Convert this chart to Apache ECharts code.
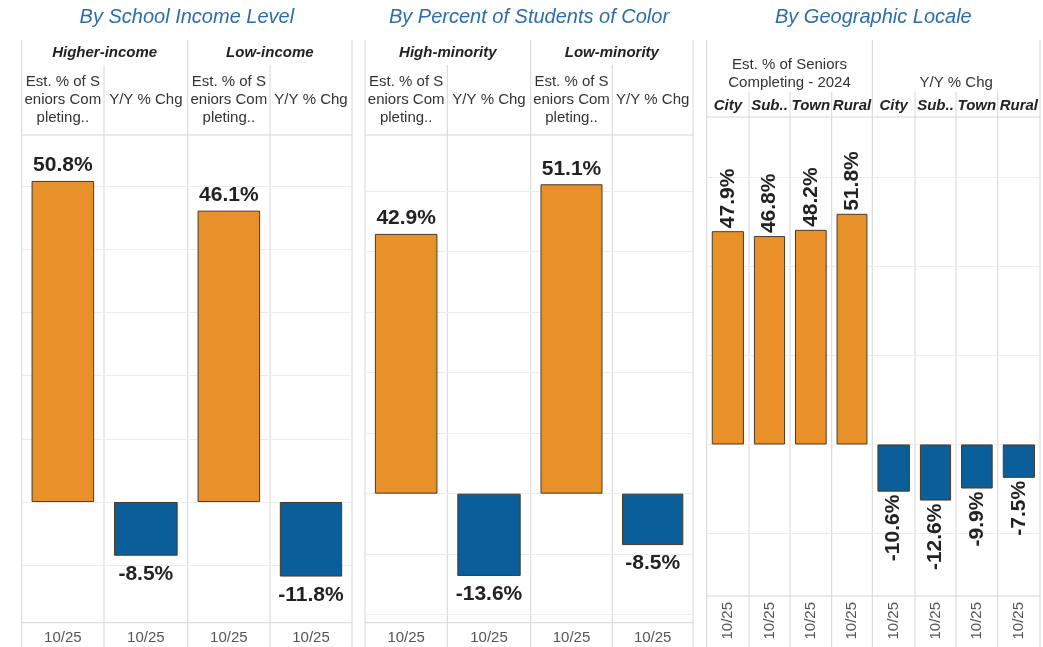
<!DOCTYPE html>
<html>
<head>
<meta charset="utf-8">
<script src="https://cdn.jsdelivr.net/npm/echarts@6/dist/echarts.min.js"></script>
<style>
  html, body { margin: 0; padding: 0; background: #ffffff; }
  #chart { width: 1043px; height: 647px; }
</style>
</head>
<body>
<div id="chart"></div>
<script>
// ---------------- DATA ----------------
const panelTitles = ['By School Income Level', 'By Percent of Students of Color', 'By Geographic Locale'];
const periodLabels = ['10/25'];
const incomeGroups = ['Higher-income', 'Low-income'];
const incomeCompleting = [50.8, 46.1];
const incomeYoY = [-8.5, -11.8];
const colorGroups = ['High-minority', 'Low-minority'];
const colorCompleting = [42.9, 51.1];
const colorYoY = [-13.6, -8.5];
const locales = ['City', 'Sub..', 'Town', 'Rural'];
const localeCompleting = [47.9, 46.8, 48.2, 51.8];
const localeYoY = [-10.6, -12.6, -9.9, -7.5];
const measureShort = 'Est. % of S\neniors Com\npleting..';
const measureLong = 'Est. % of Seniors\nCompleting - 2024';
const yoyLabel = 'Y/Y % Chg';

// ---------------- STYLE / LAYOUT ----------------
const FONT = "'Liberation Sans', Arial, sans-serif";
const ORANGE = '#E8912A';
const BLUE = '#0A5E9A';
const BORDER = '#4a3a28';
const TABLE_LINE = '#d6d6d6';
const GRID_LINE = '#ececec';
const CH = 647;

// panel layouts (column edges in px) and value axis layouts
const panels = [
  { edges: [21.7, 104, 187.7, 270, 352], top: 122.8, bottom: 628.4, min: -20, max: 60, interval: 10,
    showMin: false, labelMargin: 2, rotate: false, bodyTop: 135, bodyBottom: 622.7 },
  { edges: [365, 447.3, 530.7, 612.3, 693], top: 130.4, bottom: 614.7, min: -20, max: 60, interval: 10,
    showMin: true, labelMargin: 16, rotate: false, bodyTop: 135, bodyBottom: 622.7 },
  { edges: [706.7, 749, 790, 831.7, 872.3, 915, 956, 997.7, 1040], top: 88.25, bottom: 622.55, min: -40, max: 80, interval: 20,
    showMin: false, labelMargin: 6, rotate: true, bodyTop: 117, bodyBottom: 596 }
];

// column values per panel
const panelValues = [
  [incomeCompleting[0], incomeYoY[0], incomeCompleting[1], incomeYoY[1]],
  [colorCompleting[0], colorYoY[0], colorCompleting[1], colorYoY[1]],
  localeCompleting.concat(localeYoY)
];

const grids = [], xAxes = [], yAxes = [], series = [];
let idx = 0;
panels.forEach((p, pi) => {
  const vals = panelValues[pi];
  for (let c = 0; c < p.edges.length - 1; c++) {
    const left = p.edges[c], right = p.edges[c + 1];
    grids.push({ left: left, width: right - left, top: p.top, height: p.bottom - p.top, containLabel: false });
    xAxes.push({
      type: 'category', gridIndex: idx, data: periodLabels,
      offset: p.rotate ? (p.bodyBottom - p.bottom) : 0,
      axisLine: { show: false }, axisTick: { show: false }, splitLine: { show: false },
      axisLabel: {
        show: true, color: '#555', fontSize: 15, fontFamily: FONT,
        margin: p.labelMargin, rotate: p.rotate ? 90 : 0
      }
    });
    yAxes.push({
      type: 'value', gridIndex: idx, min: p.min, max: p.max, interval: p.interval,
      axisLine: { show: false }, axisTick: { show: false }, axisLabel: { show: false },
      splitLine: { show: true, showMinLine: p.showMin, showMaxLine: false, lineStyle: { color: GRID_LINE, width: 1 } }
    });
    const v = vals[c];
    const pos = v >= 0;
    const lbl = p.rotate
      ? { show: true, position: pos ? 'top' : 'bottom', rotate: 90, align: pos ? 'left' : 'right', verticalAlign: 'middle', distance: 3 }
      : { show: true, position: pos ? 'top' : 'bottom', distance: pos ? 5 : 8 };
    series.push({
      type: 'bar', xAxisIndex: idx, yAxisIndex: idx, barWidth: '76%',
      animation: false,
      itemStyle: { color: pos ? ORANGE : BLUE, borderColor: BORDER, borderWidth: 1 },
      label: Object.assign({
        formatter: (d) => d.value.toFixed(1) + '%',
        fontSize: 21, fontWeight: 'bold', color: '#222', fontFamily: FONT
      }, lbl),
      data: [v]
    });
    idx++;
  }
});

// ---------------- TABLE STRUCTURE / HEADERS ----------------
const graphics = [];
function vline(x, y1, y2) {
  graphics.push({ type: 'line', silent: true, shape: { x1: x, y1: y1, x2: x, y2: y2 }, style: { stroke: TABLE_LINE, lineWidth: 1 } });
}
function hline(y, x1, x2) {
  graphics.push({ type: 'line', silent: true, shape: { x1: x1, y1: y, x2: x2, y2: y }, style: { stroke: TABLE_LINE, lineWidth: 1 } });
}
function text(str, x, y, font, color, lh) {
  graphics.push({ type: 'text', silent: true, x: x, y: y,
    style: { text: str, font: font, fill: color, textAlign: 'center', textVerticalAlign: 'middle', align: 'center', verticalAlign: 'middle', lineHeight: lh || undefined } });
}

const titleFont = 'italic 20px ' + FONT;
const groupFont = 'italic bold 15px ' + FONT;
const subFont = '15px ' + FONT;
const TITLE_C = '#2B6EAD';

// Panel 1 & 2
[[0, incomeGroups], [1, colorGroups]].forEach(([pi, groups]) => {
  const e = panels[pi].edges;
  vline(e[0], 40, CH); vline(e[2], 40, CH); vline(e[4], 40, CH);
  vline(e[1], 65, CH); vline(e[3], 65, CH);
  hline(panels[pi].bodyTop, e[0], e[4]);
  hline(panels[pi].bodyBottom, e[0], e[4]);
  text(panelTitles[pi], (e[0] + e[4]) / 2, 17, titleFont, TITLE_C);
  text(groups[0], (e[0] + e[2]) / 2, 53, groupFont, '#222');
  text(groups[1], (e[2] + e[4]) / 2, 53, groupFont, '#222');
  text(measureShort, (e[0] + e[1]) / 2, 100, subFont, '#333', 18.3);
  text(yoyLabel, (e[1] + e[2]) / 2, 100, subFont, '#333');
  text(measureShort, (e[2] + e[3]) / 2, 100, subFont, '#333', 18.3);
  text(yoyLabel, (e[3] + e[4]) / 2, 100, subFont, '#333');
});

// Panel 3
(function () {
  const p = panels[2], e = p.edges;
  vline(e[0], 40, CH); vline(e[4], 40, CH); vline(e[8], 40, CH);
  [1, 2, 3, 5, 6, 7].forEach(i => vline(e[i], 91.7, CH));
  hline(p.bodyTop, e[0], e[8]);
  hline(p.bodyBottom, e[0], e[8]);
  text(panelTitles[2], (e[0] + e[8]) / 2, 17, titleFont, TITLE_C);
  text(measureLong, (e[0] + e[4]) / 2, 74, subFont, '#333', 18);
  text(yoyLabel, (e[4] + e[8]) / 2, 83, subFont, '#333');
  for (let i = 0; i < 8; i++) {
    text(locales[i % 4], (e[i] + e[i + 1]) / 2, 106, groupFont, '#222');
  }
})();

const chart = echarts.init(document.getElementById('chart'), null, { renderer: 'canvas' });
chart.setOption({
  animation: false,
  backgroundColor: '#ffffff',
  grid: grids,
  xAxis: xAxes,
  yAxis: yAxes,
  series: series,
  graphic: { elements: graphics }
});
</script>
</body>
</html>
